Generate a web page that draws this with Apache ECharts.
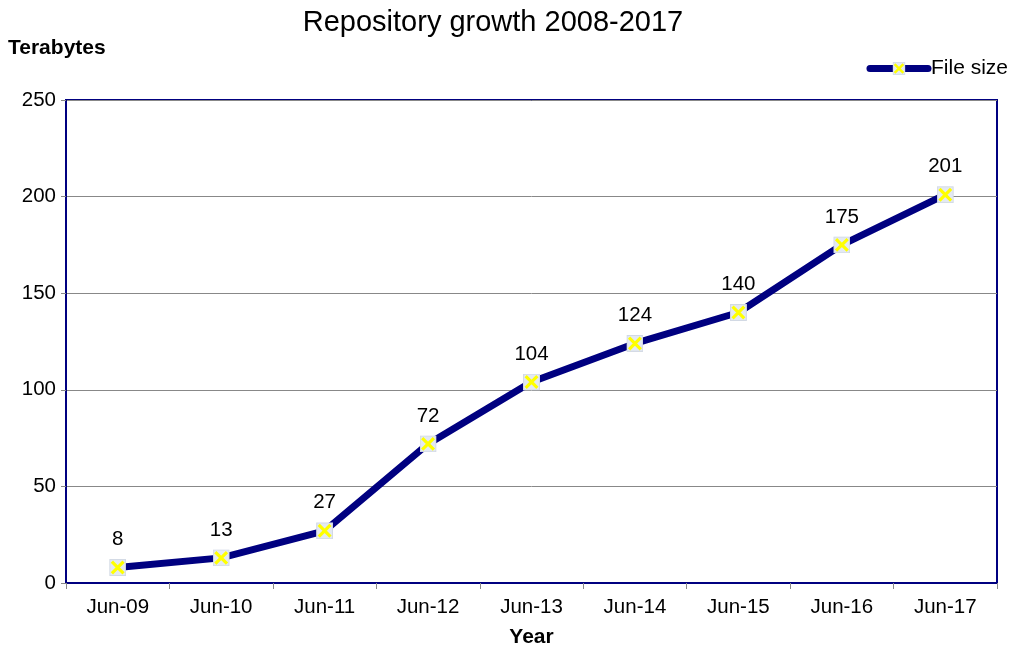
<!DOCTYPE html>
<html><head><meta charset="utf-8">
<script src="https://cdn.jsdelivr.net/npm/echarts@6/dist/echarts.min.js"></script>
<style>html,body{margin:0;padding:0;background:#fff}#c{width:1027px;height:647px}</style>
</head><body><div id="c"></div>
<script>
const categories = ['Jun-09','Jun-10','Jun-11','Jun-12','Jun-13','Jun-14','Jun-15','Jun-16','Jun-17'];
const fileSize = [8, 13, 27, 72, 104, 124, 140, 175, 201];
const yTicks = [0, 50, 100, 150, 200, 250];

const svg = '<svg xmlns="http://www.w3.org/2000/svg" width="16" height="16" viewBox="0 0 16 16">' +
  '<rect x="0.5" y="0.5" width="15" height="15" fill="#e3e9f2" stroke="#d2d9e4"/>' +
  '<path d="M2.5 2.5 L13.5 13.5 M13.5 2.5 L2.5 13.5" stroke="#ffff00" stroke-width="3" fill="none"/></svg>';
const markerImg = 'image://data:image/svg+xml;base64,' + btoa(svg);

const chart = echarts.init(document.getElementById('c'));
chart.setOption({
  animation: false,
  textStyle: {fontFamily: 'Liberation Sans, Arial, sans-serif'},
  title: {text: 'Repository growth 2008-2017', left: 488, top: 3, textAlign: 'center',
    textStyle: {fontSize: 29, fontWeight: 'normal', color: '#000', fontFamily: 'Liberation Sans'}},
  legend: {right: 14, top: 53, itemWidth: 58, itemHeight: 16, itemGap: 2,
    lineStyle: {width: 7, color: '#000080', cap: 'round'},
    textStyle: {fontSize: 21, color: '#000', fontFamily: 'Liberation Sans', padding: [0,0,0,-2]},
    data: [{name: 'File size'}]},
  grid: {left: 66, right: 30, top: 100, bottom: 64, show: true, borderColor: '#000080', borderWidth: 2,
    outerBoundsMode: 'none', containLabel: false},
  xAxis: {type: 'category', data: categories, boundaryGap: true,
    name: 'Year', nameLocation: 'middle', nameGap: 44,
    nameTextStyle: {fontSize: 21, fontWeight: 'bold', color: '#000'},
    axisLine: {lineStyle: {color: '#000080', width: 2}},
    axisTick: {show: true, alignWithLabel: false, length: 6, lineStyle: {color: '#888'}},
    axisLabel: {fontSize: 20.5, color: '#000', margin: 14}},
  yAxis: {type: 'value', min: 0, max: 250, interval: 50,
    axisLine: {show: true, lineStyle: {color: '#000080', width: 2}},
    axisTick: {show: true, length: 5, lineStyle: {color: '#888'}},
    axisLabel: {fontSize: 20.5, color: '#000', margin: 10,
      formatter: v => yTicks.includes(v) ? String(v) : ''},
    splitLine: {show: true, lineStyle: {color: '#888', width: 1}}},
  graphic: [{type: 'text', left: 8, top: 38,
    style: {text: 'Terabytes', fontSize: 21, fontWeight: 'bold', fill: '#000', fontFamily: 'Liberation Sans'}}],
  series: [{name: 'File size', type: 'line', data: fileSize,
    symbol: markerImg, symbolSize: 17, showAllSymbol: true,
    lineStyle: {color: '#000080', width: 7},
    itemStyle: {color: '#000080'},
    label: {show: true, position: 'top', distance: 9, fontSize: 20.5, color: '#000'}}]
});
</script></body></html>
